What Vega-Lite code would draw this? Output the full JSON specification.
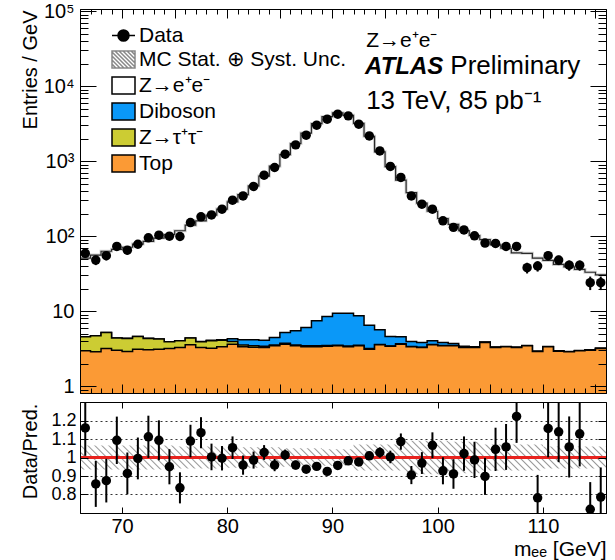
{
  "$schema": "https://vega.github.io/schema/vega-lite/v6.json",
  "background": "white",
  "padding": {"left": 19, "top": 0, "right": 5, "bottom": 0},
  "spacing": 9,
  "bounds": "flush",
  "datasets": {
    "bins": [
      {"m":66.5,"lo":66,"hi":67,"n":59,"nerr":7.7,"zee":50.9,"dib":4.56,"ztt":4.55,"top":2.96,"r":1.16,"rerr":0.151,"blo":0.935,"bhi":1.065},
      {"m":67.5,"lo":67,"hi":68,"n":48,"nerr":6.9,"zee":56,"dib":4.7,"ztt":4.69,"top":2.87,"r":0.857,"rerr":0.124,"blo":0.935,"bhi":1.065},
      {"m":68.5,"lo":68,"hi":69,"n":55,"nerr":7.4,"zee":62.9,"dib":5.21,"ztt":5.2,"top":3.18,"r":0.875,"rerr":0.118,"blo":0.935,"bhi":1.065},
      {"m":69.5,"lo":69,"hi":70,"n":73,"nerr":8.5,"zee":66.8,"dib":4.38,"ztt":4.37,"top":3.02,"r":1.093,"rerr":0.128,"blo":0.935,"bhi":1.065},
      {"m":70.5,"lo":70,"hi":71,"n":65,"nerr":8.1,"zee":71.1,"dib":4.34,"ztt":4.33,"top":2.9,"r":0.914,"rerr":0.113,"blo":0.935,"bhi":1.065},
      {"m":71.5,"lo":71,"hi":72,"n":78,"nerr":8.8,"zee":78.4,"dib":4.6,"ztt":4.59,"top":3.11,"r":0.995,"rerr":0.113,"blo":0.935,"bhi":1.065},
      {"m":72.5,"lo":72,"hi":73,"n":95,"nerr":9.7,"zee":85.4,"dib":4.34,"ztt":4.33,"top":3.05,"r":1.112,"rerr":0.114,"blo":0.935,"bhi":1.065},
      {"m":73.5,"lo":73,"hi":74,"n":103,"nerr":10.1,"zee":94.2,"dib":4.25,"ztt":4.24,"top":3.11,"r":1.093,"rerr":0.108,"blo":0.935,"bhi":1.065},
      {"m":74.5,"lo":74,"hi":75,"n":100,"nerr":10,"zee":105,"dib":3.92,"ztt":3.9,"top":3.18,"r":0.95,"rerr":0.095,"blo":0.935,"bhi":1.065},
      {"m":75.5,"lo":75,"hi":76,"n":99,"nerr":9.9,"zee":118,"dib":4.04,"ztt":4.02,"top":3.28,"r":0.836,"rerr":0.084,"blo":0.94,"bhi":1.06},
      {"m":76.5,"lo":76,"hi":77,"n":152,"nerr":12.3,"zee":140,"dib":4.39,"ztt":4.37,"top":3.56,"r":1.089,"rerr":0.088,"blo":0.94,"bhi":1.06},
      {"m":77.5,"lo":77,"hi":78,"n":181,"nerr":13.5,"zee":160,"dib":3.93,"ztt":3.9,"top":3.28,"r":1.134,"rerr":0.084,"blo":0.94,"bhi":1.06},
      {"m":78.5,"lo":78,"hi":79,"n":192,"nerr":13.9,"zee":191,"dib":4.08,"ztt":4.02,"top":3.21,"r":1.003,"rerr":0.072,"blo":0.94,"bhi":1.06},
      {"m":79.5,"lo":79,"hi":80,"n":229,"nerr":15.1,"zee":230,"dib":4.16,"ztt":4.1,"top":3.35,"r":0.996,"rerr":0.066,"blo":0.94,"bhi":1.06},
      {"m":80.5,"lo":80,"hi":81,"n":302,"nerr":17.4,"zee":287,"dib":4.3,"ztt":3.95,"top":3.63,"r":1.053,"rerr":0.061,"blo":0.945,"bhi":1.055},
      {"m":81.5,"lo":81,"hi":82,"n":344,"nerr":18.5,"zee":359,"dib":4.15,"ztt":3.55,"top":3.35,"r":0.959,"rerr":0.052,"blo":0.945,"bhi":1.055},
      {"m":82.5,"lo":82,"hi":83,"n":460,"nerr":21.4,"zee":467,"dib":4.15,"ztt":3.45,"top":3.3,"r":0.986,"rerr":0.046,"blo":0.945,"bhi":1.055},
      {"m":83.5,"lo":83,"hi":84,"n":650,"nerr":25.5,"zee":633,"dib":4.1,"ztt":3.4,"top":3.28,"r":1.027,"rerr":0.04,"blo":0.945,"bhi":1.055},
      {"m":84.5,"lo":84,"hi":85,"n":824,"nerr":28.7,"zee":859,"dib":4.46,"ztt":3.55,"top":3.45,"r":0.959,"rerr":0.033,"blo":0.945,"bhi":1.055},
      {"m":85.5,"lo":85,"hi":86,"n":1240,"nerr":35.2,"zee":1223,"dib":5.2,"ztt":3.72,"top":3.63,"r":1.014,"rerr":0.029,"blo":0.95,"bhi":1.05},
      {"m":86.5,"lo":86,"hi":87,"n":1650,"nerr":40.6,"zee":1720,"dib":5.47,"ztt":3.55,"top":3.45,"r":0.959,"rerr":0.024,"blo":0.95,"bhi":1.05},
      {"m":87.5,"lo":87,"hi":88,"n":2220,"nerr":47.1,"zee":2370,"dib":6.05,"ztt":3.45,"top":3.35,"r":0.937,"rerr":0.02,"blo":0.95,"bhi":1.05},
      {"m":88.5,"lo":88,"hi":89,"n":3020,"nerr":55,"zee":3170,"dib":7.43,"ztt":3.45,"top":3.35,"r":0.952,"rerr":0.017,"blo":0.95,"bhi":1.05},
      {"m":89.5,"lo":89,"hi":90,"n":3630,"nerr":60.2,"zee":3920,"dib":8.49,"ztt":3.48,"top":3.4,"r":0.925,"rerr":0.015,"blo":0.955,"bhi":1.045},
      {"m":90.5,"lo":90,"hi":91,"n":4230,"nerr":65,"zee":4420,"dib":9.4,"ztt":3.52,"top":3.45,"r":0.957,"rerr":0.015,"blo":0.955,"bhi":1.045},
      {"m":91.5,"lo":91,"hi":92,"n":4020,"nerr":63.4,"zee":4090,"dib":9.4,"ztt":3.42,"top":3.35,"r":0.982,"rerr":0.015,"blo":0.955,"bhi":1.045},
      {"m":92.5,"lo":92,"hi":93,"n":3110,"nerr":55.8,"zee":3190,"dib":8.66,"ztt":3.5,"top":3.45,"r":0.976,"rerr":0.017,"blo":0.93,"bhi":1.07},
      {"m":93.5,"lo":93,"hi":94,"n":2170,"nerr":46.6,"zee":2150,"dib":6.5,"ztt":3.17,"top":3.11,"r":1.009,"rerr":0.022,"blo":0.93,"bhi":1.07},
      {"m":94.5,"lo":94,"hi":95,"n":1370,"nerr":37,"zee":1334,"dib":5.64,"ztt":3.6,"top":3.56,"r":1.027,"rerr":0.028,"blo":0.93,"bhi":1.07},
      {"m":95.5,"lo":95,"hi":96,"n":850,"nerr":29.2,"zee":847,"dib":4.6,"ztt":3.44,"top":3.4,"r":1.003,"rerr":0.034,"blo":0.93,"bhi":1.07},
      {"m":96.5,"lo":96,"hi":97,"n":607,"nerr":24.6,"zee":559,"dib":4.55,"ztt":3.67,"top":3.63,"r":1.086,"rerr":0.044,"blo":0.93,"bhi":1.07},
      {"m":97.5,"lo":97,"hi":98,"n":344,"nerr":18.5,"zee":380,"dib":3.94,"ztt":3.38,"top":3.35,"r":0.905,"rerr":0.049,"blo":0.91,"bhi":1.09},
      {"m":98.5,"lo":98,"hi":99,"n":267,"nerr":16.3,"zee":275,"dib":3.82,"ztt":3.31,"top":3.28,"r":0.97,"rerr":0.059,"blo":0.91,"bhi":1.09},
      {"m":99.5,"lo":99,"hi":100,"n":229,"nerr":15.1,"zee":215,"dib":4.02,"ztt":3.59,"top":3.56,"r":1.066,"rerr":0.07,"blo":0.91,"bhi":1.09},
      {"m":100.5,"lo":100,"hi":101,"n":160,"nerr":12.6,"zee":172,"dib":3.82,"ztt":3.48,"top":3.45,"r":0.928,"rerr":0.073,"blo":0.91,"bhi":1.09},
      {"m":101.5,"lo":101,"hi":102,"n":131,"nerr":11.4,"zee":144,"dib":3.7,"ztt":3.47,"top":3.45,"r":0.911,"rerr":0.08,"blo":0.915,"bhi":1.085},
      {"m":102.5,"lo":102,"hi":103,"n":121,"nerr":11,"zee":118.5,"dib":3.4,"ztt":3.3,"top":3.28,"r":1.021,"rerr":0.093,"blo":0.915,"bhi":1.085},
      {"m":103.5,"lo":103,"hi":104,"n":101,"nerr":10,"zee":102,"dib":3.36,"ztt":3.3,"top":3.28,"r":0.987,"rerr":0.098,"blo":0.915,"bhi":1.085},
      {"m":104.5,"lo":104,"hi":105,"n":81,"nerr":9,"zee":90,"dib":3.88,"ztt":3.84,"top":3.82,"r":0.898,"rerr":0.1,"blo":0.93,"bhi":1.07},
      {"m":105.5,"lo":105,"hi":106,"n":80,"nerr":8.9,"zee":76.6,"dib":3.33,"ztt":3.3,"top":3.28,"r":1.044,"rerr":0.117,"blo":0.93,"bhi":1.07},
      {"m":106.5,"lo":106,"hi":107,"n":73,"nerr":8.5,"zee":69,"dib":3.39,"ztt":3.36,"top":3.35,"r":1.057,"rerr":0.124,"blo":0.93,"bhi":1.07},
      {"m":107.5,"lo":107,"hi":108,"n":73,"nerr":8.5,"zee":60,"dib":3.31,"ztt":3.29,"top":3.28,"r":1.222,"rerr":0.143,"blo":0.93,"bhi":1.07},
      {"m":108.5,"lo":108,"hi":109,"n":38,"nerr":6.2,"zee":59,"dib":3.48,"ztt":3.46,"top":3.45,"r":0.644,"rerr":0.105,"blo":0.93,"bhi":1.07},
      {"m":109.5,"lo":109,"hi":110,"n":40,"nerr":6.3,"zee":51,"dib":2.93,"ztt":2.91,"top":2.9,"r":0.782,"rerr":0.124,"blo":0.93,"bhi":1.07},
      {"m":110.5,"lo":110,"hi":111,"n":55,"nerr":7.4,"zee":47.5,"dib":3.38,"ztt":3.36,"top":3.35,"r":1.157,"rerr":0.156,"blo":0.94,"bhi":1.06},
      {"m":111.5,"lo":111,"hi":112,"n":48,"nerr":6.9,"zee":42,"dib":2.96,"ztt":2.94,"top":2.93,"r":1.139,"rerr":0.164,"blo":0.94,"bhi":1.06},
      {"m":112.5,"lo":112,"hi":113,"n":41,"nerr":6.4,"zee":39,"dib":2.9,"ztt":2.88,"top":2.87,"r":1.057,"rerr":0.165,"blo":0.94,"bhi":1.06},
      {"m":113.5,"lo":113,"hi":114,"n":41,"nerr":6.4,"zee":36,"dib":2.99,"ztt":2.97,"top":2.96,"r":1.128,"rerr":0.176,"blo":0.94,"bhi":1.06},
      {"m":114.5,"lo":114,"hi":115,"n":24,"nerr":4.9,"zee":33,"dib":3.05,"ztt":3.03,"top":3.02,"r":0.72,"rerr":0.147,"blo":0.94,"bhi":1.06},
      {"m":115.5,"lo":115,"hi":116,"n":24,"nerr":4.9,"zee":30.5,"dib":3.21,"ztt":3.19,"top":3.18,"r":0.786,"rerr":0.16,"blo":0.94,"bhi":1.06}
    ]
  },
  "vconcat": [
    {
      "width": 526,
      "height": 384,
      "data": {"name": "bins"},
      "layer": [
        {
          "transform": [{"fold": ["lo", "hi"], "as": ["edge", "xe"]}],
          "mark": {"type": "area", "color": "white"},
          "encoding": {
            "x": {"field": "xe", "type": "quantitative", "scale": {"domain": [66, 116], "nice": false, "zero": false},
                  "axis": {"orient": "bottom", "values": [70,75,80,85,90,95,100,105,110,115], "labels": false, "tickSize": -9, "domain": true, "title": null, "zindex": 1}},
            "y": {"field": "zee", "type": "quantitative", "scale": {"type": "log", "domain": [0.81, 107000], "nice": false},
                  "axis": {"orient": "left", "values": [1,10,100,1000,10000,100000],
                           "labelExpr": "datum.value < 5 ? '1' : datum.value < 50 ? '10' : datum.value < 500 ? '10²' : datum.value < 5000 ? '10³' : datum.value < 50000 ? '10⁴' : '10⁵'",
                           "ticks": false, "domain": false, "labelPadding": 6, "labelFlush": false, "labelOverlap": false,
                           "title": "Entries / GeV", "titleX": -44, "titleY": 1, "titleAlign": "right", "titleAngle": -90, "titleBaseline": "alphabetic"}},
            "y2": {"datum": 0.81}
          }
        },
        {
          "transform": [{"fold": ["lo", "hi"], "as": ["edge", "xe"]}],
          "mark": {"type": "line", "color": "#d2d2d2", "strokeWidth": 3},
          "encoding": {
            "x": {"field": "xe", "type": "quantitative", "scale": {"domain": [66, 116], "nice": false, "zero": false},
                  "axis": {"orient": "bottom", "values": [67,68,69,70,71,72,73,74,75,76,77,78,79,80,81,82,83,84,85,86,87,88,89,90,91,92,93,94,95,96,97,98,99,100,101,102,103,104,105,106,107,108,109,110,111,112,113,114,115], "labels": false, "tickSize": -5, "domain": false, "title": null, "zindex": 1}},
            "y": {"field": "zee", "type": "quantitative", "scale": {"type": "log", "domain": [0.81, 107000], "nice": false},
                  "axis": {"orient": "left", "values": [1,10,100,1000,10000,100000], "labels": false, "tickSize": -16, "domain": true, "title": null, "zindex": 1}}
          }
        },
        {
          "transform": [{"fold": ["lo", "hi"], "as": ["edge", "xe"]}],
          "mark": {"type": "line", "color": "#2a2a2a", "strokeWidth": 1.2},
          "encoding": {
            "x": {"field": "xe", "type": "quantitative", "scale": {"domain": [66, 116], "nice": false, "zero": false},
                  "axis": {"orient": "top", "values": [70,75,80,85,90,95,100,105,110,115], "labels": false, "tickSize": -9, "domain": true, "title": null, "zindex": 1}},
            "y": {"field": "zee", "type": "quantitative", "scale": {"type": "log", "domain": [0.81, 107000], "nice": false},
                  "axis": {"orient": "left", "values": [0.9,2,3,4,5,6,7,8,9,20,30,40,50,60,70,80,90,200,300,400,500,600,700,800,900,2000,3000,4000,5000,6000,7000,8000,9000,20000,30000,40000,50000,60000,70000,80000,90000], "labels": false, "tickSize": -8, "domain": false, "title": null, "zindex": 1}}
          }
        },
        {
          "transform": [{"fold": ["lo", "hi"], "as": ["edge", "xe"]}],
          "mark": {"type": "area", "color": "#0a98f8"},
          "encoding": {
            "x": {"field": "xe", "type": "quantitative", "scale": {"domain": [66, 116], "nice": false, "zero": false},
                  "axis": {"orient": "top", "values": [67,68,69,70,71,72,73,74,75,76,77,78,79,80,81,82,83,84,85,86,87,88,89,90,91,92,93,94,95,96,97,98,99,100,101,102,103,104,105,106,107,108,109,110,111,112,113,114,115], "labels": false, "tickSize": -5, "domain": false, "title": null, "zindex": 1}},
            "y": {"field": "dib", "type": "quantitative", "scale": {"type": "log", "domain": [0.81, 107000], "nice": false},
                  "axis": {"orient": "right", "values": [1,10,100,1000,10000,100000], "labels": false, "tickSize": -16, "domain": true, "title": null, "zindex": 1}},
            "y2": {"datum": 0.81}
          }
        },
        {
          "transform": [{"fold": ["lo", "hi"], "as": ["edge", "xe"]}],
          "mark": {"type": "line", "color": "black", "strokeWidth": 1.5},
          "encoding": {
            "x": {"field": "xe", "type": "quantitative", "scale": {"domain": [66, 116], "nice": false, "zero": false}, "axis": null},
            "y": {"field": "dib", "type": "quantitative", "scale": {"type": "log", "domain": [0.81, 107000], "nice": false},
                  "axis": {"orient": "right", "values": [0.9,2,3,4,5,6,7,8,9,20,30,40,50,60,70,80,90,200,300,400,500,600,700,800,900,2000,3000,4000,5000,6000,7000,8000,9000,20000,30000,40000,50000,60000,70000,80000,90000], "labels": false, "tickSize": -8, "domain": false, "title": null, "zindex": 1}}
          }
        },
        {
          "transform": [{"fold": ["lo", "hi"], "as": ["edge", "xe"]}],
          "mark": {"type": "area", "color": "#cccc33"},
          "encoding": {
            "x": {"field": "xe", "type": "quantitative", "scale": {"domain": [66, 116], "nice": false, "zero": false}, "axis": null},
            "y": {"field": "ztt", "type": "quantitative", "scale": {"type": "log", "domain": [0.81, 107000], "nice": false}, "axis": null},
            "y2": {"datum": 0.81}
          }
        },
        {
          "transform": [{"fold": ["lo", "hi"], "as": ["edge", "xe"]}],
          "mark": {"type": "line", "color": "black", "strokeWidth": 1.5},
          "encoding": {
            "x": {"field": "xe", "type": "quantitative", "scale": {"domain": [66, 116], "nice": false, "zero": false}, "axis": null},
            "y": {"field": "ztt", "type": "quantitative", "scale": {"type": "log", "domain": [0.81, 107000], "nice": false}, "axis": null}
          }
        },
        {
          "transform": [{"fold": ["lo", "hi"], "as": ["edge", "xe"]}],
          "mark": {"type": "area", "color": "#fb9a35"},
          "encoding": {
            "x": {"field": "xe", "type": "quantitative", "scale": {"domain": [66, 116], "nice": false, "zero": false}, "axis": null},
            "y": {"field": "top", "type": "quantitative", "scale": {"type": "log", "domain": [0.81, 107000], "nice": false}, "axis": null},
            "y2": {"datum": 0.81}
          }
        },
        {
          "transform": [{"fold": ["lo", "hi"], "as": ["edge", "xe"]}],
          "mark": {"type": "line", "color": "black", "strokeWidth": 1.5},
          "encoding": {
            "x": {"field": "xe", "type": "quantitative", "scale": {"domain": [66, 116], "nice": false, "zero": false}, "axis": null},
            "y": {"field": "top", "type": "quantitative", "scale": {"type": "log", "domain": [0.81, 107000], "nice": false}, "axis": null}
          }
        },
        {
          "mark": {"type": "errorbar", "color": "black", "thickness": 2},
          "encoding": {
            "x": {"field": "m", "type": "quantitative", "scale": {"domain": [66, 116], "nice": false, "zero": false}, "axis": null},
            "y": {"field": "n", "type": "quantitative", "scale": {"type": "log", "domain": [0.81, 107000], "nice": false}, "axis": null},
            "yError": {"field": "nerr"}
          }
        },
        {
          "mark": {"type": "circle", "color": "black", "size": 90, "opacity": 1},
          "encoding": {
            "x": {"field": "m", "type": "quantitative", "scale": {"domain": [66, 116], "nice": false, "zero": false}, "axis": null},
            "y": {"field": "n", "type": "quantitative", "scale": {"type": "log", "domain": [0.81, 107000], "nice": false}, "axis": null}
          }
        },
        {
          "data": {"values": []},
          "mark": {"type": "point", "filled": true, "opacity": 1},
          "encoding": {
            "fill": {"field": "k", "type": "nominal",
                     "scale": {"domain": ["Data", "MC Stat. ⊕ Syst. Unc.", "Z→e⁺e⁻", "Diboson", "Z→τ⁺τ⁻", "Top"],
                               "range": ["black", "white", "white", "#0a98f8", "#cccc33", "#fb9a35"]},
                     "legend": {"title": null, "orient": "none", "legendX": 31, "legendY": 14, "padding": 0,
                                "symbolSize": 529, "symbolStrokeWidth": 1.5, "symbolOpacity": 1,
                                "labelFontSize": 21, "labelOffset": 3, "labelLimit": 400, "labelColor": "black", "rowPadding": 1}},
            "shape": {"field": "k", "type": "nominal",
                      "scale": {"domain": ["Data", "MC Stat. ⊕ Syst. Unc.", "Z→e⁺e⁻", "Diboson", "Z→τ⁺τ⁻", "Top"],
                                "range": ["M-1,0H1M-0.48,0A0.48,0.48 0 1,0 0.48,0A0.48,0.48 0 1,0 -0.48,0Z",
                                          "M-1,-0.74H1V0.74H-1ZM-1,0.4L-0.66,0.74M-1,0.05L-0.31,0.74M-1,-0.3L0.04,0.74M-1,-0.65L0.39,0.74M-0.74,-0.74L0.74,0.74M-0.39,-0.74L1,0.65M-0.04,-0.74L1,0.3M0.31,-0.74L1,-0.05M0.66,-0.74L1,-0.4",
                                          "M-1,-0.74H1V0.74H-1Z", "M-1,-0.74H1V0.74H-1Z", "M-1,-0.74H1V0.74H-1Z", "M-1,-0.74H1V0.74H-1Z"]}},
            "stroke": {"field": "k", "type": "nominal",
                       "scale": {"domain": ["Data", "MC Stat. ⊕ Syst. Unc.", "Z→e⁺e⁻", "Diboson", "Z→τ⁺τ⁻", "Top"],
                                 "range": ["black", "#888888", "black", "black", "black", "black"]}}
          }
        },
        {
          "data": {"values": [{}]},
          "mark": {"type": "text", "text": "Z→e⁺e⁻", "align": "left", "baseline": "alphabetic", "fontSize": 21, "color": "black"},
          "encoding": {
            "x": {"datum": 93.2, "type": "quantitative", "scale": {"domain": [66, 116], "nice": false, "zero": false}, "axis": null},
            "y": {"datum": 33000, "type": "quantitative", "scale": {"type": "log", "domain": [0.81, 107000], "nice": false}, "axis": null}
          }
        },
        {
          "data": {"values": [{}]},
          "mark": {"type": "text", "text": "ATLAS", "align": "left", "baseline": "alphabetic", "fontSize": 24, "fontWeight": "bold", "fontStyle": "italic", "color": "black"},
          "encoding": {
            "x": {"datum": 93.1, "type": "quantitative", "scale": {"domain": [66, 116], "nice": false, "zero": false}, "axis": null},
            "y": {"datum": 14500, "type": "quantitative", "scale": {"type": "log", "domain": [0.81, 107000], "nice": false}, "axis": null}
          }
        },
        {
          "data": {"values": [{}]},
          "mark": {"type": "text", "text": "Preliminary", "align": "left", "baseline": "alphabetic", "fontSize": 26, "color": "black"},
          "encoding": {
            "x": {"datum": 101.2, "type": "quantitative", "scale": {"domain": [66, 116], "nice": false, "zero": false}, "axis": null},
            "y": {"datum": 14500, "type": "quantitative", "scale": {"type": "log", "domain": [0.81, 107000], "nice": false}, "axis": null}
          }
        },
        {
          "data": {"values": [{}]},
          "mark": {"type": "text", "text": "13 TeV, 85 pb⁻¹", "align": "left", "baseline": "alphabetic", "fontSize": 26, "color": "black"},
          "encoding": {
            "x": {"datum": 93.2, "type": "quantitative", "scale": {"domain": [66, 116], "nice": false, "zero": false}, "axis": null},
            "y": {"datum": 5000, "type": "quantitative", "scale": {"type": "log", "domain": [0.81, 107000], "nice": false}, "axis": null}
          }
        }
      ],
      "resolve": {"axis": {"x": "independent", "y": "independent"}}
    },
    {
      "width": 526,
      "height": 111,
      "data": {"name": "bins"},
      "layer": [
        {
          "transform": [{"fold": ["lo", "hi"], "as": ["edge", "xe"]}],
          "mark": {"type": "area", "fill": {"gradient": "linear", "x1": 0, "y1": 1, "x2": 1.06, "y2": 0.933, "stops": [
            {"offset":0,"color":"rgba(150,150,150,0)"},{"offset":0.0025,"color":"#969696"},{"offset":0.005,"color":"rgba(150,150,150,0)"},
            {"offset":0.0125,"color":"rgba(150,150,150,0)"},{"offset":0.015,"color":"#969696"},{"offset":0.0175,"color":"rgba(150,150,150,0)"},
            {"offset":0.025,"color":"rgba(150,150,150,0)"},{"offset":0.0275,"color":"#969696"},{"offset":0.03,"color":"rgba(150,150,150,0)"},
            {"offset":0.0375,"color":"rgba(150,150,150,0)"},{"offset":0.04,"color":"#969696"},{"offset":0.0425,"color":"rgba(150,150,150,0)"},
            {"offset":0.05,"color":"rgba(150,150,150,0)"},{"offset":0.0525,"color":"#969696"},{"offset":0.055,"color":"rgba(150,150,150,0)"},
            {"offset":0.0625,"color":"rgba(150,150,150,0)"},{"offset":0.065,"color":"#969696"},{"offset":0.0675,"color":"rgba(150,150,150,0)"},
            {"offset":0.075,"color":"rgba(150,150,150,0)"},{"offset":0.0775,"color":"#969696"},{"offset":0.08,"color":"rgba(150,150,150,0)"},
            {"offset":0.0875,"color":"rgba(150,150,150,0)"},{"offset":0.09,"color":"#969696"},{"offset":0.0925,"color":"rgba(150,150,150,0)"},
            {"offset":0.1,"color":"rgba(150,150,150,0)"},{"offset":0.1025,"color":"#969696"},{"offset":0.105,"color":"rgba(150,150,150,0)"},
            {"offset":0.1125,"color":"rgba(150,150,150,0)"},{"offset":0.115,"color":"#969696"},{"offset":0.1175,"color":"rgba(150,150,150,0)"},
            {"offset":0.125,"color":"rgba(150,150,150,0)"},{"offset":0.1275,"color":"#969696"},{"offset":0.13,"color":"rgba(150,150,150,0)"},
            {"offset":0.1375,"color":"rgba(150,150,150,0)"},{"offset":0.14,"color":"#969696"},{"offset":0.1425,"color":"rgba(150,150,150,0)"},
            {"offset":0.15,"color":"rgba(150,150,150,0)"},{"offset":0.1525,"color":"#969696"},{"offset":0.155,"color":"rgba(150,150,150,0)"},
            {"offset":0.1625,"color":"rgba(150,150,150,0)"},{"offset":0.165,"color":"#969696"},{"offset":0.1675,"color":"rgba(150,150,150,0)"},
            {"offset":0.175,"color":"rgba(150,150,150,0)"},{"offset":0.1775,"color":"#969696"},{"offset":0.18,"color":"rgba(150,150,150,0)"},
            {"offset":0.1875,"color":"rgba(150,150,150,0)"},{"offset":0.19,"color":"#969696"},{"offset":0.1925,"color":"rgba(150,150,150,0)"},
            {"offset":0.2,"color":"rgba(150,150,150,0)"},{"offset":0.2025,"color":"#969696"},{"offset":0.205,"color":"rgba(150,150,150,0)"},
            {"offset":0.2125,"color":"rgba(150,150,150,0)"},{"offset":0.215,"color":"#969696"},{"offset":0.2175,"color":"rgba(150,150,150,0)"},
            {"offset":0.225,"color":"rgba(150,150,150,0)"},{"offset":0.2275,"color":"#969696"},{"offset":0.23,"color":"rgba(150,150,150,0)"},
            {"offset":0.2375,"color":"rgba(150,150,150,0)"},{"offset":0.24,"color":"#969696"},{"offset":0.2425,"color":"rgba(150,150,150,0)"},
            {"offset":0.25,"color":"rgba(150,150,150,0)"},{"offset":0.2525,"color":"#969696"},{"offset":0.255,"color":"rgba(150,150,150,0)"},
            {"offset":0.2625,"color":"rgba(150,150,150,0)"},{"offset":0.265,"color":"#969696"},{"offset":0.2675,"color":"rgba(150,150,150,0)"},
            {"offset":0.275,"color":"rgba(150,150,150,0)"},{"offset":0.2775,"color":"#969696"},{"offset":0.28,"color":"rgba(150,150,150,0)"},
            {"offset":0.2875,"color":"rgba(150,150,150,0)"},{"offset":0.29,"color":"#969696"},{"offset":0.2925,"color":"rgba(150,150,150,0)"},
            {"offset":0.3,"color":"rgba(150,150,150,0)"},{"offset":0.3025,"color":"#969696"},{"offset":0.305,"color":"rgba(150,150,150,0)"},
            {"offset":0.3125,"color":"rgba(150,150,150,0)"},{"offset":0.315,"color":"#969696"},{"offset":0.3175,"color":"rgba(150,150,150,0)"},
            {"offset":0.325,"color":"rgba(150,150,150,0)"},{"offset":0.3275,"color":"#969696"},{"offset":0.33,"color":"rgba(150,150,150,0)"},
            {"offset":0.3375,"color":"rgba(150,150,150,0)"},{"offset":0.34,"color":"#969696"},{"offset":0.3425,"color":"rgba(150,150,150,0)"},
            {"offset":0.35,"color":"rgba(150,150,150,0)"},{"offset":0.3525,"color":"#969696"},{"offset":0.355,"color":"rgba(150,150,150,0)"},
            {"offset":0.3625,"color":"rgba(150,150,150,0)"},{"offset":0.365,"color":"#969696"},{"offset":0.3675,"color":"rgba(150,150,150,0)"},
            {"offset":0.375,"color":"rgba(150,150,150,0)"},{"offset":0.3775,"color":"#969696"},{"offset":0.38,"color":"rgba(150,150,150,0)"},
            {"offset":0.3875,"color":"rgba(150,150,150,0)"},{"offset":0.39,"color":"#969696"},{"offset":0.3925,"color":"rgba(150,150,150,0)"},
            {"offset":0.4,"color":"rgba(150,150,150,0)"},{"offset":0.4025,"color":"#969696"},{"offset":0.405,"color":"rgba(150,150,150,0)"},
            {"offset":0.4125,"color":"rgba(150,150,150,0)"},{"offset":0.415,"color":"#969696"},{"offset":0.4175,"color":"rgba(150,150,150,0)"},
            {"offset":0.425,"color":"rgba(150,150,150,0)"},{"offset":0.4275,"color":"#969696"},{"offset":0.43,"color":"rgba(150,150,150,0)"},
            {"offset":0.4375,"color":"rgba(150,150,150,0)"},{"offset":0.44,"color":"#969696"},{"offset":0.4425,"color":"rgba(150,150,150,0)"},
            {"offset":0.45,"color":"rgba(150,150,150,0)"},{"offset":0.4525,"color":"#969696"},{"offset":0.455,"color":"rgba(150,150,150,0)"},
            {"offset":0.4625,"color":"rgba(150,150,150,0)"},{"offset":0.465,"color":"#969696"},{"offset":0.4675,"color":"rgba(150,150,150,0)"},
            {"offset":0.475,"color":"rgba(150,150,150,0)"},{"offset":0.4775,"color":"#969696"},{"offset":0.48,"color":"rgba(150,150,150,0)"},
            {"offset":0.4875,"color":"rgba(150,150,150,0)"},{"offset":0.49,"color":"#969696"},{"offset":0.4925,"color":"rgba(150,150,150,0)"},
            {"offset":0.5,"color":"rgba(150,150,150,0)"},{"offset":0.5025,"color":"#969696"},{"offset":0.505,"color":"rgba(150,150,150,0)"},
            {"offset":0.5125,"color":"rgba(150,150,150,0)"},{"offset":0.515,"color":"#969696"},{"offset":0.5175,"color":"rgba(150,150,150,0)"},
            {"offset":0.525,"color":"rgba(150,150,150,0)"},{"offset":0.5275,"color":"#969696"},{"offset":0.53,"color":"rgba(150,150,150,0)"},
            {"offset":0.5375,"color":"rgba(150,150,150,0)"},{"offset":0.54,"color":"#969696"},{"offset":0.5425,"color":"rgba(150,150,150,0)"},
            {"offset":0.55,"color":"rgba(150,150,150,0)"},{"offset":0.5525,"color":"#969696"},{"offset":0.555,"color":"rgba(150,150,150,0)"},
            {"offset":0.5625,"color":"rgba(150,150,150,0)"},{"offset":0.565,"color":"#969696"},{"offset":0.5675,"color":"rgba(150,150,150,0)"},
            {"offset":0.575,"color":"rgba(150,150,150,0)"},{"offset":0.5775,"color":"#969696"},{"offset":0.58,"color":"rgba(150,150,150,0)"},
            {"offset":0.5875,"color":"rgba(150,150,150,0)"},{"offset":0.59,"color":"#969696"},{"offset":0.5925,"color":"rgba(150,150,150,0)"},
            {"offset":0.6,"color":"rgba(150,150,150,0)"},{"offset":0.6025,"color":"#969696"},{"offset":0.605,"color":"rgba(150,150,150,0)"},
            {"offset":0.6125,"color":"rgba(150,150,150,0)"},{"offset":0.615,"color":"#969696"},{"offset":0.6175,"color":"rgba(150,150,150,0)"},
            {"offset":0.625,"color":"rgba(150,150,150,0)"},{"offset":0.6275,"color":"#969696"},{"offset":0.63,"color":"rgba(150,150,150,0)"},
            {"offset":0.6375,"color":"rgba(150,150,150,0)"},{"offset":0.64,"color":"#969696"},{"offset":0.6425,"color":"rgba(150,150,150,0)"},
            {"offset":0.65,"color":"rgba(150,150,150,0)"},{"offset":0.6525,"color":"#969696"},{"offset":0.655,"color":"rgba(150,150,150,0)"},
            {"offset":0.6625,"color":"rgba(150,150,150,0)"},{"offset":0.665,"color":"#969696"},{"offset":0.6675,"color":"rgba(150,150,150,0)"},
            {"offset":0.675,"color":"rgba(150,150,150,0)"},{"offset":0.6775,"color":"#969696"},{"offset":0.68,"color":"rgba(150,150,150,0)"},
            {"offset":0.6875,"color":"rgba(150,150,150,0)"},{"offset":0.69,"color":"#969696"},{"offset":0.6925,"color":"rgba(150,150,150,0)"},
            {"offset":0.7,"color":"rgba(150,150,150,0)"},{"offset":0.7025,"color":"#969696"},{"offset":0.705,"color":"rgba(150,150,150,0)"},
            {"offset":0.7125,"color":"rgba(150,150,150,0)"},{"offset":0.715,"color":"#969696"},{"offset":0.7175,"color":"rgba(150,150,150,0)"},
            {"offset":0.725,"color":"rgba(150,150,150,0)"},{"offset":0.7275,"color":"#969696"},{"offset":0.73,"color":"rgba(150,150,150,0)"},
            {"offset":0.7375,"color":"rgba(150,150,150,0)"},{"offset":0.74,"color":"#969696"},{"offset":0.7425,"color":"rgba(150,150,150,0)"},
            {"offset":0.75,"color":"rgba(150,150,150,0)"},{"offset":0.7525,"color":"#969696"},{"offset":0.755,"color":"rgba(150,150,150,0)"},
            {"offset":0.7625,"color":"rgba(150,150,150,0)"},{"offset":0.765,"color":"#969696"},{"offset":0.7675,"color":"rgba(150,150,150,0)"},
            {"offset":0.775,"color":"rgba(150,150,150,0)"},{"offset":0.7775,"color":"#969696"},{"offset":0.78,"color":"rgba(150,150,150,0)"},
            {"offset":0.7875,"color":"rgba(150,150,150,0)"},{"offset":0.79,"color":"#969696"},{"offset":0.7925,"color":"rgba(150,150,150,0)"},
            {"offset":0.8,"color":"rgba(150,150,150,0)"},{"offset":0.8025,"color":"#969696"},{"offset":0.805,"color":"rgba(150,150,150,0)"},
            {"offset":0.8125,"color":"rgba(150,150,150,0)"},{"offset":0.815,"color":"#969696"},{"offset":0.8175,"color":"rgba(150,150,150,0)"},
            {"offset":0.825,"color":"rgba(150,150,150,0)"},{"offset":0.8275,"color":"#969696"},{"offset":0.83,"color":"rgba(150,150,150,0)"},
            {"offset":0.8375,"color":"rgba(150,150,150,0)"},{"offset":0.84,"color":"#969696"},{"offset":0.8425,"color":"rgba(150,150,150,0)"},
            {"offset":0.85,"color":"rgba(150,150,150,0)"},{"offset":0.8525,"color":"#969696"},{"offset":0.855,"color":"rgba(150,150,150,0)"},
            {"offset":0.8625,"color":"rgba(150,150,150,0)"},{"offset":0.865,"color":"#969696"},{"offset":0.8675,"color":"rgba(150,150,150,0)"},
            {"offset":0.875,"color":"rgba(150,150,150,0)"},{"offset":0.8775,"color":"#969696"},{"offset":0.88,"color":"rgba(150,150,150,0)"},
            {"offset":0.8875,"color":"rgba(150,150,150,0)"},{"offset":0.89,"color":"#969696"},{"offset":0.8925,"color":"rgba(150,150,150,0)"},
            {"offset":0.9,"color":"rgba(150,150,150,0)"},{"offset":0.9025,"color":"#969696"},{"offset":0.905,"color":"rgba(150,150,150,0)"},
            {"offset":0.9125,"color":"rgba(150,150,150,0)"},{"offset":0.915,"color":"#969696"},{"offset":0.9175,"color":"rgba(150,150,150,0)"},
            {"offset":0.925,"color":"rgba(150,150,150,0)"},{"offset":0.9275,"color":"#969696"},{"offset":0.93,"color":"rgba(150,150,150,0)"},
            {"offset":0.9375,"color":"rgba(150,150,150,0)"},{"offset":0.94,"color":"#969696"},{"offset":0.9425,"color":"rgba(150,150,150,0)"},
            {"offset":0.95,"color":"rgba(150,150,150,0)"},{"offset":0.9525,"color":"#969696"},{"offset":0.955,"color":"rgba(150,150,150,0)"},
            {"offset":0.9625,"color":"rgba(150,150,150,0)"},{"offset":0.965,"color":"#969696"},{"offset":0.9675,"color":"rgba(150,150,150,0)"},
            {"offset":0.975,"color":"rgba(150,150,150,0)"},{"offset":0.9775,"color":"#969696"},{"offset":0.98,"color":"rgba(150,150,150,0)"},
            {"offset":0.9875,"color":"rgba(150,150,150,0)"},{"offset":0.99,"color":"#969696"},{"offset":0.9925,"color":"rgba(150,150,150,0)"}
          ]}},
          "encoding": {
            "x": {"field": "xe", "type": "quantitative", "scale": {"domain": [66, 116], "nice": false, "zero": false},
                  "axis": {"orient": "bottom", "values": [70,80,90,100,110], "ticks": false, "domain": false, "labelPadding": 3, "labelFlush": false,
                           "title": "mₑₑ [GeV]", "titleFontSize": 21, "titleX": 526, "titleY": 42, "titleAlign": "right", "titleBaseline": "alphabetic"}},
            "y": {"field": "bhi", "type": "quantitative", "scale": {"domain": [0.7, 1.3], "nice": false, "zero": false, "clamp": true},
                  "axis": {"orient": "left", "values": [0.8,0.9,1,1.1,1.2], "labelExpr": "datum.value == 1 ? '1' : format(datum.value, '.1f')",
                           "ticks": false, "domain": false, "labelPadding": 4, "labelFlush": false, "labelOverlap": false, "labelFontSize": 18,
                           "title": "Data/Pred.", "titleX": -44, "titleY": 49, "titleAlign": "center", "titleAngle": -90, "titleBaseline": "alphabetic"}},
            "y2": {"field": "blo"}
          }
        },
        {
          "mark": {"type": "rule", "color": "#e8231e", "strokeWidth": 2},
          "encoding": {
            "y": {"datum": 1, "type": "quantitative", "scale": {"domain": [0.7, 1.3], "nice": false, "zero": false, "clamp": true},
                  "axis": {"orient": "left", "values": [0.8,0.9,1,1.1,1.2], "labels": false, "tickSize": -8, "domain": true, "title": null, "zindex": 1}}
          }
        },
        {
          "transform": [{"filter": "datum.r >= 0.7 && datum.r <= 1.3"}],
          "mark": {"type": "errorbar", "color": "black", "thickness": 2},
          "encoding": {
            "x": {"field": "m", "type": "quantitative", "scale": {"domain": [66, 116], "nice": false, "zero": false},
                  "axis": {"orient": "bottom", "values": [70,80,90,100,110], "labels": false, "tickSize": -6, "domain": true, "title": null, "zindex": 1}},
            "y": {"field": "r", "type": "quantitative", "scale": {"domain": [0.7, 1.3], "nice": false, "zero": false, "clamp": true},
                  "axis": {"orient": "right", "values": [0.8,0.9,1,1.1,1.2], "labels": false, "tickSize": -8, "domain": true, "title": null, "zindex": 1}},
            "yError": {"field": "rerr"}
          }
        },
        {
          "transform": [{"filter": "datum.r >= 0.7 && datum.r <= 1.3"}],
          "mark": {"type": "circle", "color": "black", "size": 90, "opacity": 1},
          "encoding": {
            "x": {"field": "m", "type": "quantitative", "scale": {"domain": [66, 116], "nice": false, "zero": false},
                  "axis": {"orient": "top", "values": [70,80,90,100,110], "labels": false, "tickSize": -6, "domain": true, "title": null, "zindex": 1}},
            "y": {"field": "r", "type": "quantitative", "scale": {"domain": [0.7, 1.3], "nice": false, "zero": false, "clamp": true},
                  "axis": {"orient": "left", "values": [0.8,0.9,1.1,1.2], "labels": false, "ticks": false, "domain": false, "grid": true,
                           "gridDash": [2, 3], "gridColor": "#333333", "gridWidth": 1, "title": null, "zindex": 0}}
          }
        }
      ],
      "resolve": {"axis": {"x": "independent", "y": "independent"}}
    }
  ],
  "config": {
    "font": "Liberation Sans",
    "view": {"stroke": "black", "strokeWidth": 1},
    "axis": {
      "labelFont": "Liberation Sans", "titleFont": "Liberation Sans",
      "labelColor": "black", "titleColor": "black", "tickColor": "black", "domainColor": "black",
      "labelFontSize": 20, "titleFontSize": 20, "titleFontWeight": "normal",
      "tickWidth": 1, "domainWidth": 1, "grid": false
    },
    "legend": {"labelFont": "Liberation Sans"}
  }
}
